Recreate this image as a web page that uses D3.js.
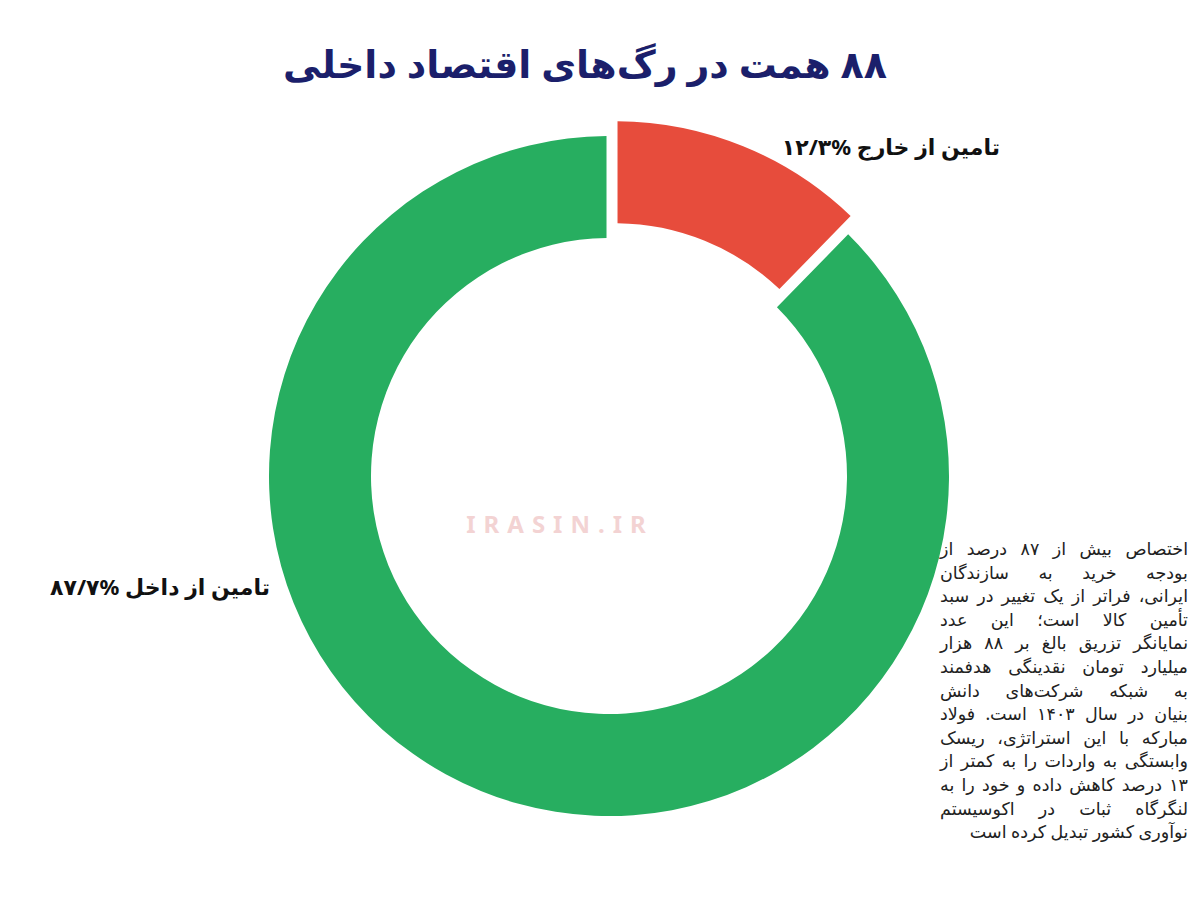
<!DOCTYPE html>
<html lang="fa">
<head>
<meta charset="UTF-8">
<script src="https://d3js.org/d3.v7.min.js"></script>
<style>
    body { margin: 0; background: #fff; font-family: "Noto Sans", "DejaVu Sans", sans-serif; }
    #note {
        position: absolute; left: 940px; top: 537px; width: 248px;
        direction: rtl; font-size: 17.5px; line-height: 23.6px; color: #222;
    }
    #note div { text-align: justify; text-align-last: justify; white-space: nowrap; }
    #note div.last { text-align-last: right; }
</style>
</head>
<body>
<svg id="chart" width="1200" height="900"></svg>
<div id="note"></div>
<script>
const labels = ["تامین از خارج", "تامین از داخل"];
const values = [12.3, 87.7];
const valueText = ["۱۲/۳%", "۸۷/۷%"];
const colors = ["#e74c3c", "#27ae60"];
const noteLines = [
    "اختصاص بیش از ۸۷ درصد از",
    "بودجه خرید به سازندگان",
    "ایرانی، فراتر از یک تغییر در سبد",
    "تأمین کالا است؛ این عدد",
    "نمایانگر تزریق بالغ بر ۸۸ هزار",
    "میلیارد تومان نقدینگی هدفمند",
    "به شبکه شرکت‌های دانش",
    "بنیان در سال ۱۴۰۳ است. فولاد",
    "مبارکه با این استراتژی، ریسک",
    "وابستگی به واردات را به کمتر از",
    "۱۳ درصد کاهش داده و خود را به",
    "لنگرگاه ثبات در اکوسیستم",
    "نوآوری کشور تبدیل کرده است"
];

const svg = d3.select("#chart");
const cx = 609, cy = 476, outer = 340, inner = 238;

svg.append("text")
    .attr("x", 585).attr("y", 78)
    .attr("text-anchor", "middle").attr("direction", "rtl")
    .attr("font-size", 38).attr("font-weight", "bold").attr("fill", "#1b1f6b")
    .text("۸۸ همت در رگ‌های اقتصاد داخلی");

// watermark
svg.append("text")
    .attr("x", 560).attr("y", 533).attr("text-anchor", "middle")
    .attr("font-size", 24).attr("font-weight", "bold").attr("letter-spacing", 8)
    .attr("fill", "#f3d3d3").text("IRASIN.IR");

const pie = d3.pie().sort(null).value(d => d);
const arc = d3.arc().innerRadius(inner).outerRadius(outer).padAngle(0.012);
const g = svg.append("g").attr("transform", `translate(${cx},${cy})`);

g.selectAll("path").data(pie(values)).join("path")
    .attr("d", arc)
    .attr("fill", (d, i) => colors[i])
    .attr("transform", (d, i) => {
        if (i !== 0) return null;
        const a = (d.startAngle + d.endAngle) / 2, off = 16;
        return `translate(${off * Math.sin(a)},${-off * Math.cos(a)})`;
    });

const labelPos = [[1000, 155], [270, 595]];
labels.forEach((l, i) => {
    svg.append("text")
        .attr("x", labelPos[i][0]).attr("y", labelPos[i][1])
        .attr("text-anchor", "start").attr("direction", "rtl")
        .attr("font-size", 22).attr("font-weight", "bold").attr("fill", "#111")
        .text(l + "  \u202A" + valueText[i] + "\u202C");
});

d3.select("#note").selectAll("div").data(noteLines).join("div")
    .attr("class", (d, i) => i === noteLines.length - 1 ? "last" : null)
    .text(d => d);
</script>
</body>
</html>
